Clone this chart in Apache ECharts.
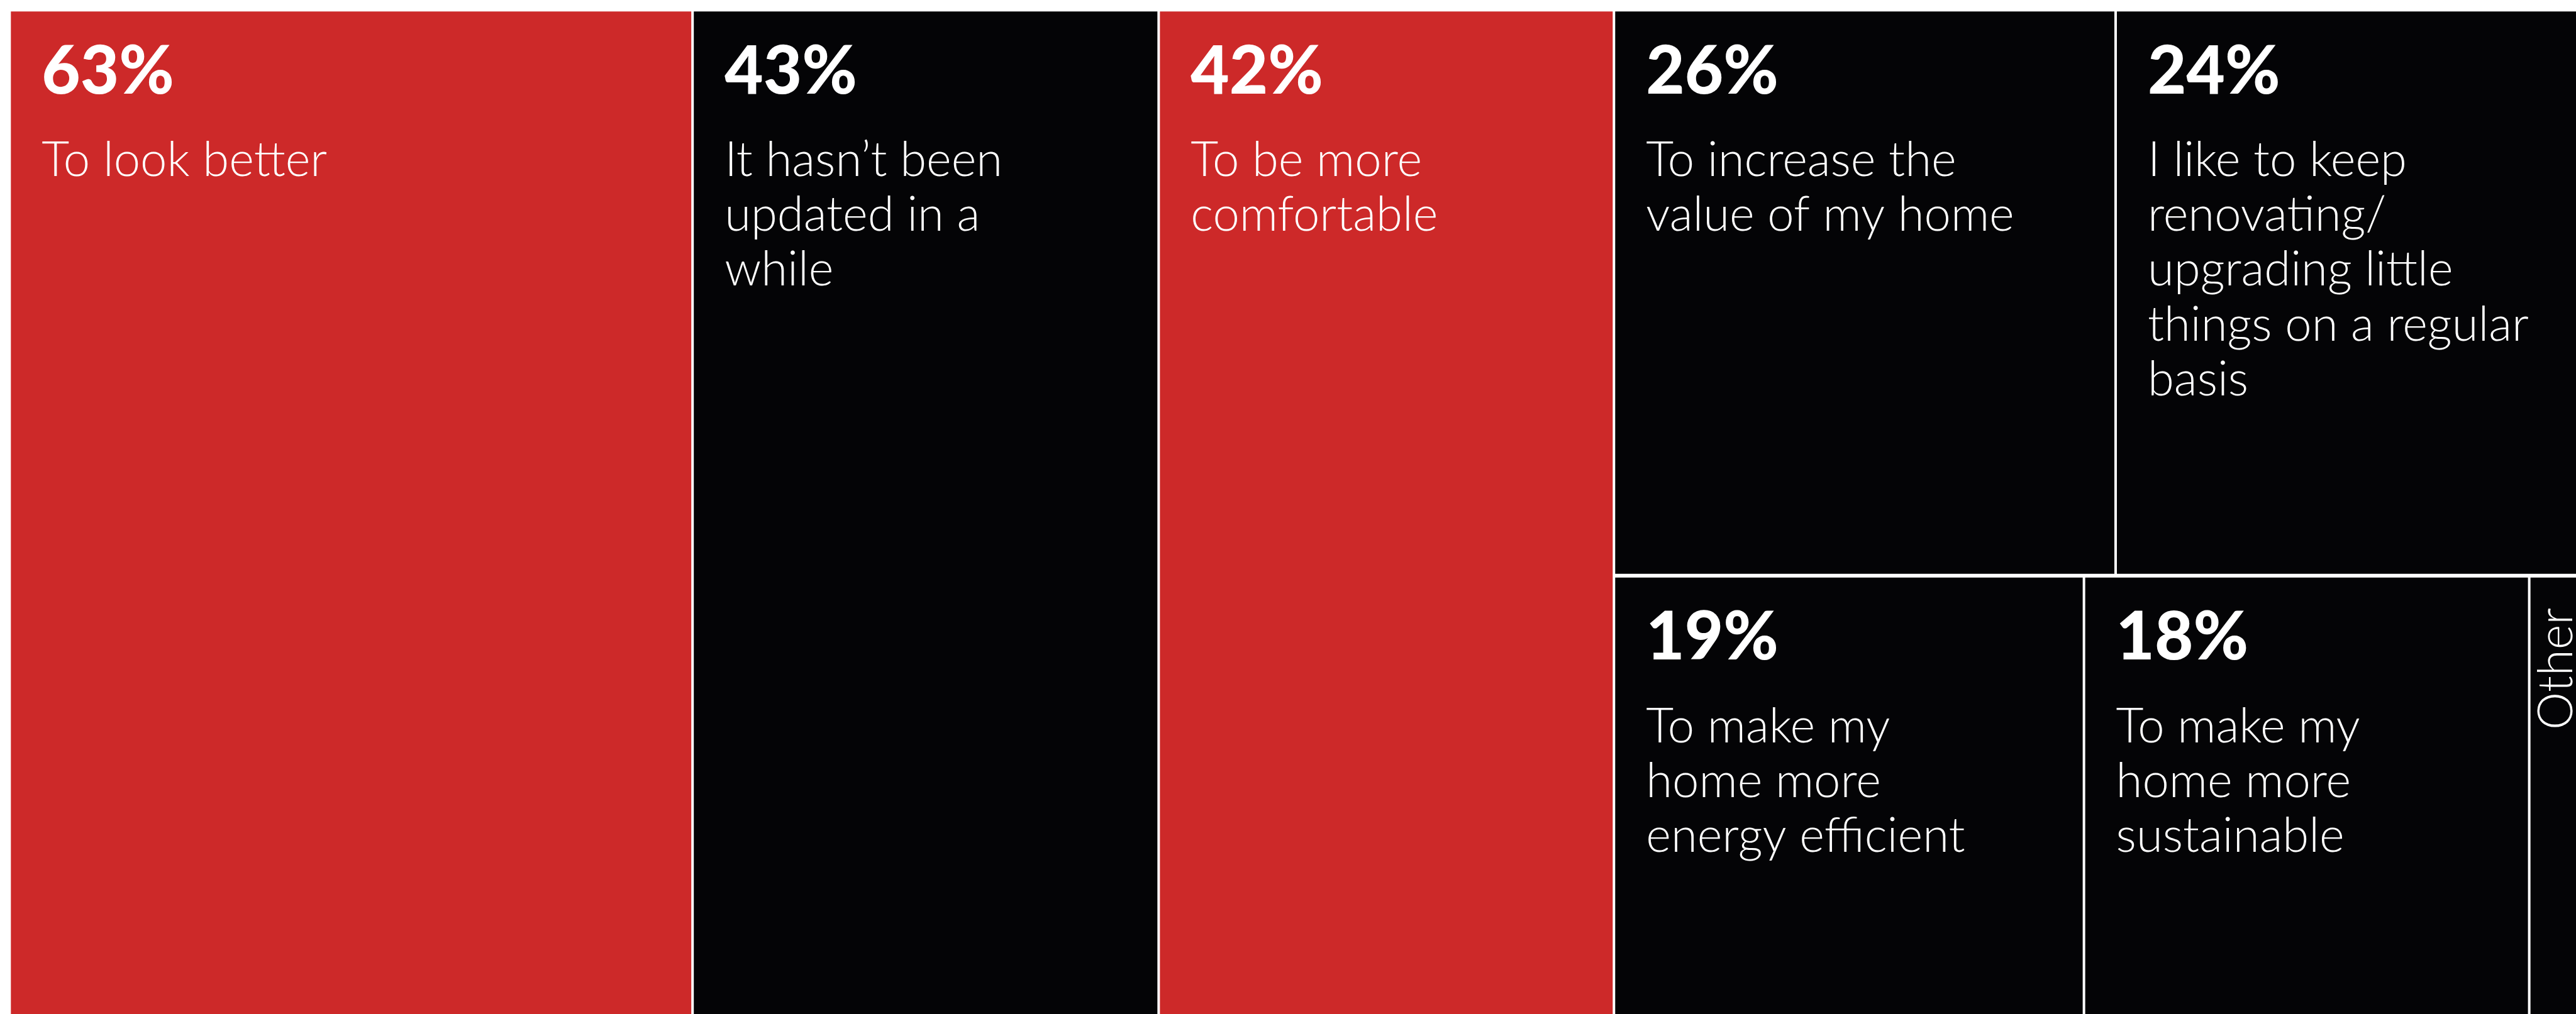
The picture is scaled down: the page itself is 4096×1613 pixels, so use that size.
<!DOCTYPE html>
<html>
<head>
<meta charset="utf-8">
<title>Reasons for renovating</title>
<script src="https://cdn.jsdelivr.net/npm/echarts@6/dist/echarts.min.js"></script>
<style>
  html, body { margin: 0; padding: 0; background: #ffffff; }
  #chart { width: 4096px; height: 1613px; }
</style>
</head>
<body>
<div id="chart"></div>
<script>
// Reasons given for renovating, share of respondents (%)
const reasons = [
  'To look better',
  'It hasn’t been\nupdated in a\nwhile',
  'To be more\ncomfortable',
  'To increase the\nvalue of my home',
  'I like to keep\nrenovating/\nupgrading little\nthings on a regular\nbasis',
  'To make my\nhome more\nenergy efficient',
  'To make my\nhome more\nsustainable',
  'Other'
];
const shares = [63, 43, 42, 26, 24, 19, 18, 2];

// --- styling ---
const RED = '#CD2929';
const BLACK = '#040406';
const accent = new Set(['To look better', 'To be more\ncomfortable']);
const FONT = 'Lato, "Noto Sans", sans-serif';

function leaf(i) {
  const node = {
    name: reasons[i],
    value: shares[i],
    itemStyle: { color: accent.has(reasons[i]) ? RED : BLACK }
  };
  if (reasons[i] === 'Other') {
    // narrow cell: name only, reading bottom to top
    node.label = {
      formatter: '{o|{b}}',
      rotate: 90,
      position: [10, 48],
      align: 'right',
      verticalAlign: 'top'
    };
  }
  return node;
}

// Block arrangement: three full-height columns, then a block holding
// a top row (26, 24) and a bottom row (19, 18, Other).
function group(children, gap) {
  return { children: children, itemStyle: { gapWidth: gap, borderColor: '#fff', borderWidth: 0 } };
}
const topRow = group([leaf(3), leaf(4)], 4);
const bottomRow = group([leaf(5), leaf(6), leaf(7)], 4);
let block = group([topRow, bottomRow], 6);
for (let i = 2; i >= 1; i--) {
  block = group([leaf(i), block], 4);
}
const treeData = [leaf(0), block];

const chart = echarts.init(document.getElementById('chart'), null, { renderer: 'canvas' });
chart.setOption({
  animation: false,
  backgroundColor: '#ffffff',
  series: [{
    type: 'treemap',
    left: 17.3,
    top: 18.2,
    width: 4081,
    height: 1597,
    sort: false,
    squareRatio: 1,
    roam: false,
    nodeClick: false,
    breadcrumb: { show: false },
    upperLabel: { show: false },
    itemStyle: { borderWidth: 0, gapWidth: 4, borderColor: '#ffffff' },
    emphasis: { disabled: true },
    label: {
      show: true,
      position: [49, -1.3],
      align: 'left',
      verticalAlign: 'top',
      padding: 0,
      overflow: 'none',
      color: '#ffffff',
      formatter: function (p) {
        return '{p|' + p.value + '%}\n{d|' + p.name + '}';
      },
      rich: {
        p: { fontFamily: FONT, fontWeight: 900, fontSize: 106, lineHeight: 195, color: '#ffffff' },
        d: { fontFamily: FONT, fontWeight: 300, fontSize: 76, lineHeight: 87.2, color: '#ffffff' },
        o: { fontFamily: FONT, fontWeight: 300, fontSize: 76, lineHeight: 64, color: '#ffffff' }
      }
    },
    data: treeData
  }]
});
</script>
</body>
</html>
